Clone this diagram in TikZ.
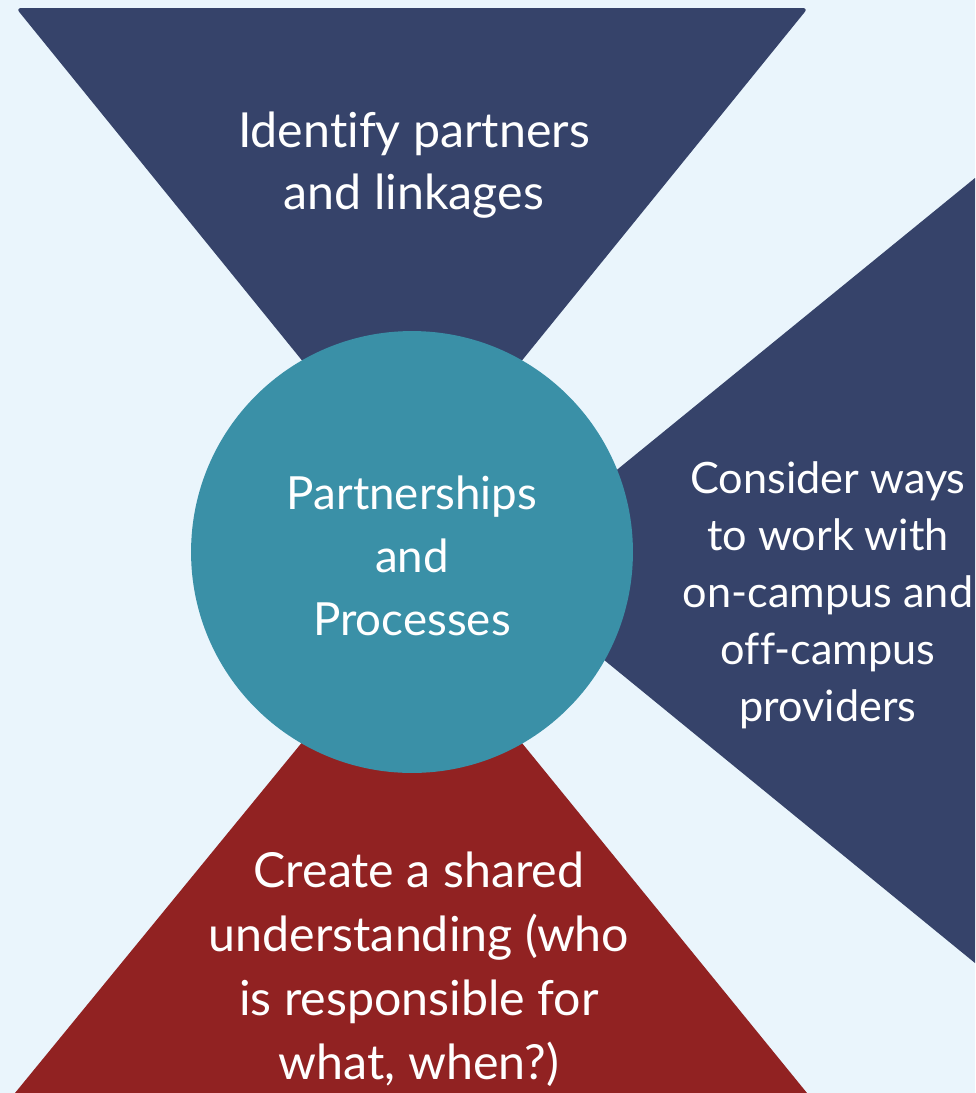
\documentclass[tikz,border=0pt]{standalone}
\usepackage{fontspec}
\setmainfont{Lato}[Ligatures=NoCommon]
\definecolor{bgblue}{HTML}{EAF5FC}
\definecolor{navy}{HTML}{36436A}
\definecolor{teal}{HTML}{3A90A7}
\definecolor{darkred}{HTML}{912222}
\begin{document}
\begin{tikzpicture}[
    x=0.02cm, y=-0.02cm,
    wedge/.style={
        fill=navy,
        rounded corners=3pt
    },
    label/.style={
        text=white,
        align=center,
        font=\fontsize{27.5}{35.5}\selectfont
    },
    hub/.style={
        circle,
        fill=teal,
        minimum size=8.84cm,
        inner sep=0pt
    },
]

% === BACKGROUND ===
\fill[bgblue] (0,0) rectangle (975,1093);
\useasboundingbox (0,0) rectangle (975,1093);

% === WEDGES (dibujar primero) ===
\fill[wedge] (16,8) -- (808,8) -- (412,496) -- cycle;
\fill[navy] (494,570) -- (975,178) -- (975,963) -- cycle;
\fill[darkred] (15,1093) -- (412,608) -- (807,1093) -- cycle;

% === CENTRE ===
\node[hub] (hub) at (412,552) {};
\node[label, font=\fontsize{26}{36}\selectfont] (hubtext) at (412,556)
{Partnerships\\and\\Processes};

% Wedge texts
\node[label] (partners) at (414,165) {Identify partners\\and linkages};
\node[label, font=\fontsize{24.6}{32.5}\selectfont] (providers) at (828,595)
{Consider ways\\to work with\\on-campus and\\off-campus\\providers};
\node[label, font=\fontsize{27.5}{36.5}\selectfont] (shared) at (419,969)
{Create a shared\\understanding (who\\is responsible for\\what, when?)};

\end{tikzpicture}
\end{document}
